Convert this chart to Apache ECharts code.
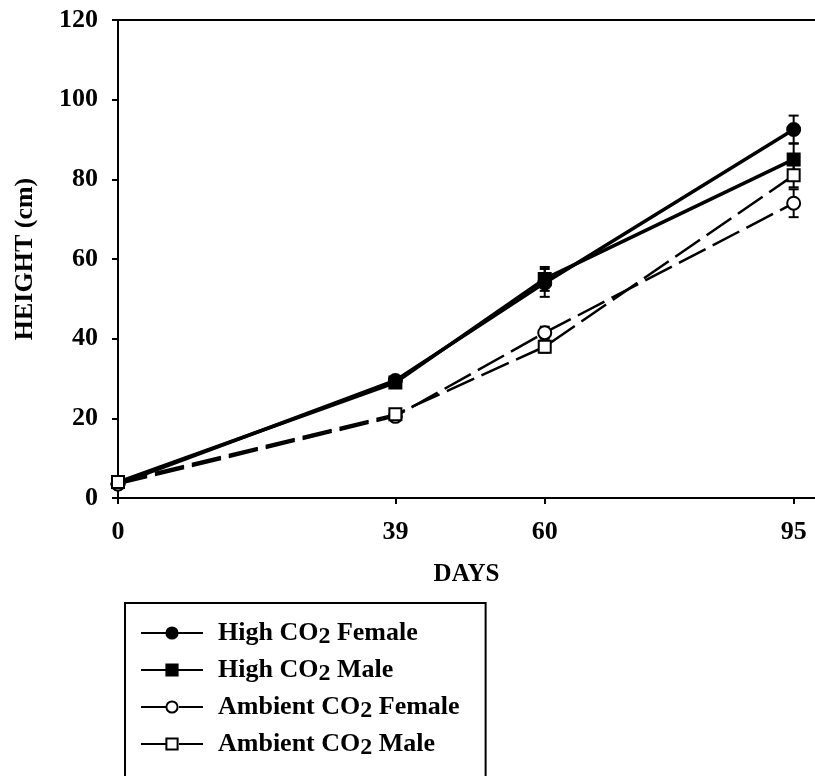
<!DOCTYPE html>
<html>
<head>
<meta charset="utf-8">
<script src="https://cdn.jsdelivr.net/npm/echarts@6/dist/echarts.min.js"></script>
<style>
  html, body { margin: 0; padding: 0; background: #fff; }
  #chart { width: 815px; height: 776px; }
</style>
</head>
<body>
<div id="chart"></div>
<script>
// Sampling days (x positions) and the day ticks shown on the axis
const days = [0, 39, 60, 95];
const dayTicks = [0, 39, 60, 95];

// Mean plant height (cm) per treatment
const highFemale = [3.5, 29.5, 54, 92.5];
const highMale = [4, 29, 55, 85];
const ambientFemale = [3.5, 20.5, 41.5, 74];
const ambientMale = [4, 21, 38, 81];

// Error half-widths (cm)
const highFemaleErr = [0.5, 1, 3.5, 3.5];
const highMaleErr = [0.5, 1, 3, 4];
const ambientFemaleErr = [0.5, 1, 1.5, 3.5];
const ambientMaleErr = [0.5, 1, 1.5, 3];

// Series names
const names = ['High CO2 Female', 'High CO2 Male', 'Ambient CO2 Female', 'Ambient CO2 Male'];

const FONT = '"Liberation Serif", "Times New Roman", serif';

function pairs(ys) { return days.map((d, i) => [d, ys[i]]); }
function errPairs(ys, es) { return days.map((d, i) => [d, ys[i], es[i]]); }

function lineSeries(name, ys, symbol, dashed) {
  return {
    name: name,
    type: 'line',
    data: pairs(ys),
    symbol: symbol,
    symbolSize: /rect/i.test(symbol) ? 12 : 13,
    showAllSymbol: true,
    lineStyle: { color: '#000', width: dashed ? 2.5 : 3.5, type: dashed ? [30, 8] : 'solid' },
    itemStyle: { color: '#000', borderColor: '#000', borderWidth: 2 },
    emphasis: { disabled: true },
    z: 3
  };
}

function errorSeries(ys, es) {
  return {
    type: 'custom',
    data: errPairs(ys, es),
    encode: { x: 0, y: 1 },
    silent: true,
    z: 2,
    renderItem: function (params, api) {
      const x = api.value(0), y = api.value(1), e = api.value(2);
      const top = api.coord([x, y + e]);
      const bot = api.coord([x, y - e]);
      const cap = 5;
      const st = { stroke: '#000', lineWidth: 2 };
      return {
        type: 'group',
        children: [
          { type: 'line', shape: { x1: top[0], y1: top[1], x2: bot[0], y2: bot[1] }, style: st },
          { type: 'line', shape: { x1: top[0] - cap, y1: top[1], x2: top[0] + cap, y2: top[1] }, style: st },
          { type: 'line', shape: { x1: bot[0] - cap, y1: bot[1], x2: bot[0] + cap, y2: bot[1] }, style: st }
        ]
      };
    }
  };
}

const chart = echarts.init(document.getElementById('chart'));

chart.setOption({
  animation: false,
  backgroundColor: '#fff',
  textStyle: { fontFamily: FONT, color: '#000' },
  grid: { left: 118, top: 20, right: 0, bottom: 278 },
  xAxis: [{
    type: 'value',
    min: 0,
    max: 98,
    name: 'DAYS',
    nameLocation: 'middle',
    nameGap: 64,
    nameTextStyle: { fontFamily: FONT, fontWeight: 'bold', fontSize: 25, color: '#000' },
    axisLine: { lineStyle: { color: '#000', width: 2 } },
    axisTick: { show: true, customValues: dayTicks, length: 6, lineStyle: { color: '#000', width: 2 } },
    axisLabel: { customValues: dayTicks, margin: 21, fontFamily: FONT, fontWeight: 'bold', fontSize: 26, color: '#000' },
    splitLine: { show: false }
  }, {
    type: 'value',
    position: 'top',
    min: 0,
    max: 98,
    axisLine: { show: true, lineStyle: { color: '#000', width: 2 } },
    axisTick: { show: false },
    axisLabel: { show: false },
    splitLine: { show: false }
  }],
  yAxis: {
    type: 'value',
    min: 0,
    max: 120,
    interval: 20,
    name: 'HEIGHT (cm)',
    nameLocation: 'middle',
    nameRotate: 90,
    nameGap: 80,
    nameTextStyle: { fontFamily: FONT, fontWeight: 'bold', fontSize: 26, color: '#000' },
    axisLine: { show: true, lineStyle: { color: '#000', width: 2 } },
    axisTick: { show: true, length: 6, lineStyle: { color: '#000', width: 2 } },
    axisLabel: { margin: 20, fontFamily: FONT, fontWeight: 'bold', fontSize: 26, color: '#000' },
    splitLine: { show: false }
  },
  legend: {
    orient: 'vertical',
    left: 125,
    top: 603,
    height: 200,
    data: names,
    itemWidth: 62,
    itemHeight: 14,
    itemGap: 5,
    padding: [14, 26, 50, 15],
    borderColor: '#000',
    borderWidth: 2,
    borderRadius: 0,
    selectedMode: false,
    formatter: function (n) {
      const parts = n.split('CO2');
      return '{t|' + parts[0] + 'CO}{s|2}{t|' + parts[1] + '}';
    },
    textStyle: {
      fontFamily: FONT,
      fontWeight: 'bold',
      color: '#000',
      padding: [0, 0, 0, 10],
      rich: {
        t: { fontFamily: FONT, fontWeight: 'bold', fontSize: 26, color: '#000', lineHeight: 26 },
        s: { fontFamily: FONT, fontWeight: 'bold', fontSize: 24, color: '#000', lineHeight: 26, padding: [8, 0, 0, 0] }
      }
    }
  },
  series: [
    lineSeries(names[0], highFemale, 'circle', false),
    lineSeries(names[1], highMale, 'rect', false),
    lineSeries(names[2], ambientFemale, 'emptyCircle', true),
    lineSeries(names[3], ambientMale, 'emptyRect', true),
    errorSeries(highFemale, highFemaleErr),
    errorSeries(highMale, highMaleErr),
    errorSeries(ambientFemale, ambientFemaleErr),
    errorSeries(ambientMale, ambientMaleErr)
  ]
});
</script>
</body>
</html>
